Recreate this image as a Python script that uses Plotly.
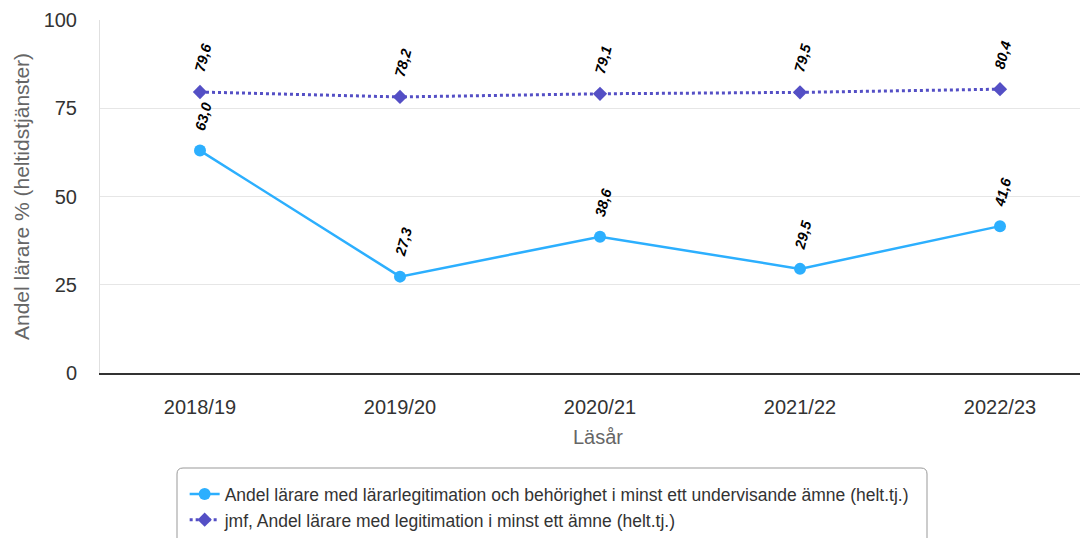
import plotly.graph_objects as go

categories = ["2018/19", "2019/20", "2020/21", "2021/22", "2022/23"]
series1_name = "Andel lärare med lärarlegitimation och behörighet i minst ett undervisande ämne (helt.tj.)"
series1 = [63.0, 27.3, 38.6, 29.5, 41.6]
series2_name = "jmf, Andel lärare med legitimation i minst ett ämne (helt.tj.)"
series2 = [79.6, 78.2, 79.1, 79.5, 80.4]
y_ticks = [0, 25, 50, 75, 100]

c1 = "#2caffe"
c2 = "#544fc5"
xi = list(range(len(categories)))
FONT = "Liberation Sans, Arial, sans-serif"

fig = go.Figure()
fig.add_trace(go.Scatter(
    x=xi, y=series1, name=series1_name, mode="lines+markers",
    line=dict(color=c1, width=2.5), marker=dict(color=c1, size=12, symbol="circle"),
))
fig.add_trace(go.Scatter(
    x=xi, y=series2, name=series2_name, mode="lines+markers",
    line=dict(color=c2, width=3, dash="dot"), marker=dict(color=c2, size=11, symbol="diamond"),
))

def fmt(v):
    return f"{v:.1f}".replace(".", ",")

annotations = []
for s in (series1, series2):
    for i, v in enumerate(s):
        annotations.append(dict(
            x=i, y=v, xref="x", yref="y", text=f"<b><i>{fmt(v)}</i></b>",
            showarrow=False, textangle=-75, yshift=34, xshift=3,
            font=dict(family=FONT, size=14.5, color="#000000"),
        ))

# rounded legend frame (pixel path anchored at paper origin)
r = 6
x0, x1, ytop, ybot = 77, 827, -95, -200
legend_path = (
    f"M {x0 + r},{ytop} L {x1 - r},{ytop} Q {x1},{ytop} {x1},{ytop - r} "
    f"L {x1},{ybot + r} Q {x1},{ybot} {x1 - r},{ybot} "
    f"L {x0 + r},{ybot} Q {x0},{ybot} {x0},{ybot + r} "
    f"L {x0},{ytop - r} Q {x0},{ytop} {x0 + r},{ytop} Z"
)

fig.update_layout(
    width=1088, height=538,
    margin=dict(l=92, r=0, t=12, b=173, autoexpand=False),
    plot_bgcolor="white", paper_bgcolor="white",
    font=dict(family=FONT, color="#333333"),
    showlegend=True,
    legend=dict(
        orientation="v", x=0.085, y=-0.292, xanchor="left", yanchor="top",
        borderwidth=0, bgcolor="rgba(0,0,0,0)",
        font=dict(size=17.5, color="#333333"), tracegroupgap=2,
        itemwidth=30,
    ),
    shapes=[dict(
        type="path", path=legend_path, xref="paper", yref="paper",
        xsizemode="pixel", ysizemode="pixel", xanchor=0, yanchor=0,
        line=dict(color="#999999", width=1), fillcolor="rgba(0,0,0,0)", layer="below",
    )],
    annotations=annotations,
    xaxis=dict(
        range=[-0.5, 4.48], tickmode="array", tickvals=xi, ticktext=categories,
        showgrid=False, zeroline=False, showline=True, linecolor="#333333", linewidth=1.5,
        ticks="", tickfont=dict(size=20, color="#333333"), ticklabelstandoff=15,
        title=dict(text="Läsår", font=dict(size=20, color="#666666"), standoff=13),
        fixedrange=True,
    ),
    yaxis=dict(
        range=[0, 100], tickmode="array", tickvals=y_ticks,
        showgrid=True, gridcolor="#e6e6e6", gridwidth=1, zeroline=False,
        showline=True, linecolor="#e0e0e0", linewidth=1,
        ticks="", tickfont=dict(size=20, color="#333333"), ticklabelstandoff=18,
        title=dict(text="Andel lärare % (heltidstjänster)", font=dict(size=21, color="#666666"), standoff=8),
        fixedrange=True,
    ),
)

fig.write_html("out.html")
